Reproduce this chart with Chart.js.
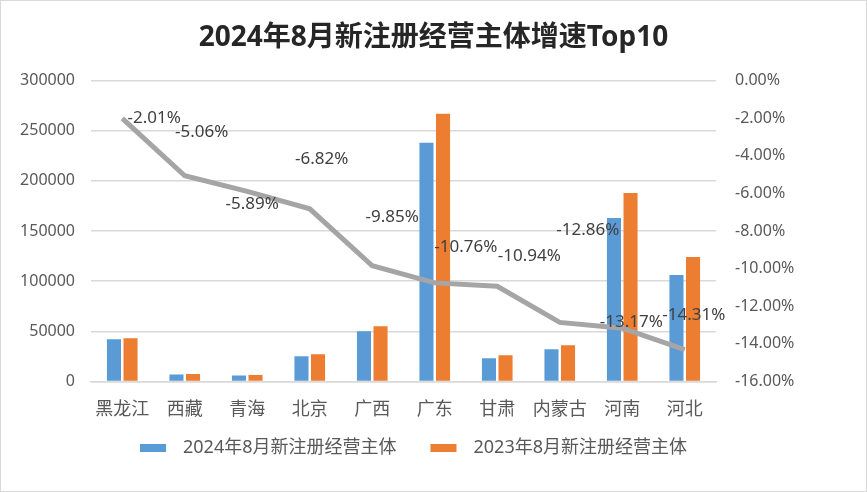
<!DOCTYPE html>
<html><head><meta charset="utf-8">
<script src="https://cdn.jsdelivr.net/npm/chart.js@4"></script>
<style>
html,body{margin:0;padding:0;background:#fff;}
#c{position:absolute;left:0;top:0;}
#frame{position:absolute;left:0;top:0;width:865px;height:490px;border:1px solid #d9d9d9;pointer-events:none;}
</style></head><body>
<canvas id="c" width="867" height="492"></canvas>
<div id="frame"></div>
<script>
const categories = ["黑龙江","西藏","青海","北京","广西","广东","甘肃","内蒙古","河南","河北"];
const series2024 = [42000,7000,6000,25000,50000,238000,23000,32000,163000,106000];
const series2023 = [43000,7400,6400,27000,55000,267000,26000,36000,188000,124000];
const growth = [-2.01,-5.06,-5.89,-6.82,-9.85,-10.76,-10.94,-12.86,-13.17,-14.31];
const seriesNames = ["2024年8月新注册经营主体","2023年8月新注册经营主体","增速"];

const labelOffsets = [[32,0],[17,-44],[5,13],[12,-50],[20,-49],[31,-36],[32,-30],[28,-92],[9,-6],[9,-34]];
const font = "'Noto Sans', 'Noto Sans CJK SC', sans-serif";

const lineLabels = {
  id:'lineLabels',
  afterDatasetsDraw(chart){
    const meta = chart.getDatasetMeta(2);
    const ctx = chart.ctx;
    ctx.save();
    ctx.font = "17px " + font;
    ctx.fillStyle = "#404040";
    ctx.textAlign = "center";
    ctx.textBaseline = "middle";
    meta.data.forEach((p,i)=>{
      const o = labelOffsets[i];
      ctx.fillText(growth[i].toFixed(2)+"%", p.x+o[0], p.y+o[1]);
    });
    ctx.restore();
  }
};

const customLegend = {
  id:'customLegend',
  afterDraw(chart){
    const ctx = chart.ctx;
    ctx.save();
    ctx.font = "18px " + font;
    ctx.textBaseline = "middle";
    ctx.textAlign = "left";
    const boxW = 26, boxH = 8, gap = 17, itemGap = 34;
    const items = [0,1].map(i=>({text:chart.data.datasets[i].label, color:chart.data.datasets[i].backgroundColor}));
    const widths = items.map(it=>boxW+gap+ctx.measureText(it.text).width);
    const total = widths.reduce((a,b)=>a+b,0) + itemGap;
    let x = chart.width/2 - 20 - total/2;
    const y = chart.height - 44;
    items.forEach((it,i)=>{
      ctx.fillStyle = it.color;
      ctx.fillRect(x, y-boxH/2, boxW, boxH);
      ctx.fillStyle = '#595959';
      ctx.fillText(it.text, x+boxW+gap, y);
      x += widths[i] + itemGap;
    });
    ctx.restore();
  }
};

new Chart(document.getElementById('c'), {
  data: {
    labels: categories,
    datasets: [
      {type:'bar', label: seriesNames[0], data: series2024, backgroundColor:'#5b9bd5', yAxisID:'y', order:2,
       categoryPercentage:0.53, barPercentage:0.85},
      {type:'bar', label: seriesNames[1], data: series2023, backgroundColor:'#ed7d31', yAxisID:'y', order:2,
       categoryPercentage:0.53, barPercentage:0.85},
      {type:'line', label: seriesNames[2], data: growth, borderColor:'#a5a5a5', borderWidth:5, pointRadius:0,
       yAxisID:'y2', order:1, tension:0}
    ]
  },
  options: {
    responsive:false, animation:false,
    layout:{padding:{left:0,right:0,top:0,bottom:61}},
    plugins:{
      title:{display:true, text:'2024年8月新注册经营主体增速Top10', color:'#262626',
        font:{size:28, weight:'bold', family:font}, padding:{top:21,bottom:26}},
      legend:{display:false},
      tooltip:{enabled:false}
    },
    scales:{
      x:{grid:{display:false}, border:{color:'#d9d9d9', width:1.5},
         ticks:{color:'#595959', font:{size:18,family:font}, padding:10}},
      y:{position:'left', min:0, max:300000,
         afterFit:s=>{s.width=91;},
         ticks:{stepSize:50000, color:'#595959', font:{size:16,family:font}, padding:16, callback:v=>String(v)},
         grid:{color:'#d9d9d9', lineWidth:1.5, drawTicks:false}, border:{display:false}},
      y2:{position:'right', min:-16, max:0,
         afterFit:s=>{s.width=151;},
         ticks:{stepSize:2, color:'#595959', font:{size:16,family:font}, padding:19,
           callback:v=>v.toFixed(2)+'%'},
         grid:{display:false, drawTicks:false}, border:{display:false}}
    }
  },
  plugins:[lineLabels, customLegend]
});
</script>
</body></html>
